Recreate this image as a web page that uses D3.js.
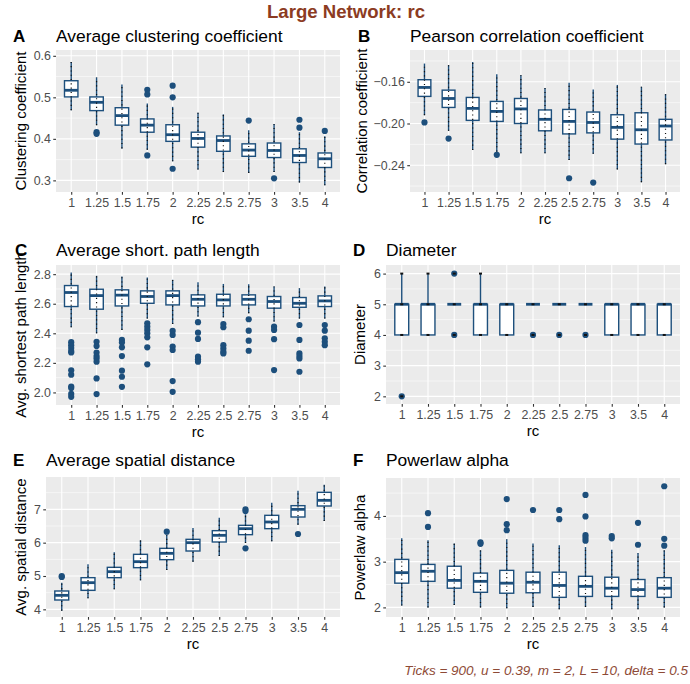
<!DOCTYPE html>
<html>
<head>
<meta charset="utf-8">
<script src="https://cdn.jsdelivr.net/npm/d3@7"></script>
<style>
  body { margin: 0; background: #fff; }
  svg { font-family: "Liberation Sans", Arial, sans-serif; }
</style>
</head>
<body>
<svg id="chart" width="690" height="684"></svg>
<script>
const rcLevels = ['1', '1.25', '1.5', '1.75', '2', '2.25', '2.5', '2.75', '3', '3.5', '4'];

// each row: [lower whisker, q1, median, q3, upper whisker]
const clusterStats = [
  [0.469, 0.501, 0.517, 0.540, 0.585], [0.433, 0.468, 0.488, 0.501, 0.548],
  [0.377, 0.433, 0.456, 0.475, 0.531], [0.374, 0.416, 0.433, 0.448, 0.485],
  [0.346, 0.394, 0.410, 0.434, 0.477], [0.326, 0.380, 0.401, 0.416, 0.463],
  [0.320, 0.370, 0.396, 0.407, 0.459], [0.318, 0.358, 0.373, 0.388, 0.421],
  [0.320, 0.355, 0.372, 0.390, 0.436], [0.295, 0.343, 0.360, 0.376, 0.416],
  [0.288, 0.331, 0.352, 0.366, 0.406]
];
const clusterOutliers = [[], [0.416, 0.412], [], [0.518, 0.507, 0.360], [0.528, 0.500, 0.328],
  [], [], [0.444], [0.305], [0.446, 0.427], [0.419]];

const corrStats = [
  [-0.192, -0.174, -0.1654, -0.158, -0.1425], [-0.207, -0.1846, -0.176, -0.168, -0.144],
  [-0.2254, -0.197, -0.1855, -0.175, -0.141], [-0.227, -0.198, -0.1884, -0.1788, -0.1527],
  [-0.2286, -0.200, -0.186, -0.176, -0.1536], [-0.2286, -0.207, -0.196, -0.187, -0.166],
  [-0.235, -0.210, -0.198, -0.1865, -0.161], [-0.229, -0.209, -0.199, -0.189, -0.1673],
  [-0.244, -0.215, -0.2037, -0.1916, -0.163], [-0.2563, -0.2197, -0.206, -0.1897, -0.1648],
  [-0.239, -0.2158, -0.2024, -0.196, -0.1718]
];
const corrOutliers = [[-0.199], [-0.2145], [], [-0.230], [], [], [-0.2525], [-0.2567], [], [], []];

const pathStats = [
  [2.441, 2.581, 2.676, 2.723, 2.811], [2.400, 2.563, 2.655, 2.698, 2.789],
  [2.423, 2.585, 2.658, 2.694, 2.784], [2.500, 2.603, 2.649, 2.687, 2.777],
  [2.463, 2.592, 2.655, 2.687, 2.762], [2.513, 2.585, 2.630, 2.660, 2.746],
  [2.508, 2.585, 2.626, 2.664, 2.734], [2.536, 2.592, 2.630, 2.660, 2.732],
  [2.479, 2.570, 2.615, 2.649, 2.716], [2.500, 2.576, 2.603, 2.642, 2.705],
  [2.500, 2.581, 2.619, 2.653, 2.716]
];
const pathOutliers = [
  [2.34, 2.32, 2.30, 2.28, 2.27, 2.15, 2.12, 2.04, 2.03, 1.99, 1.97],
  [2.343, 2.314, 2.27, 2.246, 2.23, 2.208, 2.095, 1.989],
  [2.355, 2.337, 2.305, 2.246, 2.147, 2.106, 2.038],
  [2.468, 2.445, 2.423, 2.40, 2.373, 2.305, 2.19],
  [2.416, 2.389, 2.31, 2.287, 2.077, 2.004],
  [2.475, 2.404, 2.362, 2.242, 2.224, 2.208],
  [2.463, 2.441, 2.32, 2.298, 2.276, 2.264],
  [2.495, 2.418, 2.35, 2.282],
  [2.445, 2.423, 2.36, 2.151],
  [2.456, 2.355, 2.264, 2.246, 2.23, 2.14],
  [2.456, 2.418, 2.366, 2.343, 2.32]
];

const diameterStats = [
  [4, 4, 5, 5, 6], [4, 4, 5, 5, 6], [5, 5, 5, 5, 5], [4, 4, 5, 5, 6],
  [4, 4, 5, 5, 5], [5, 5, 5, 5, 5], [5, 5, 5, 5, 5], [5, 5, 5, 5, 5],
  [4, 4, 5, 5, 5], [4, 4, 5, 5, 5], [4, 4, 5, 5, 5]
];
const diameterOutliers = [[2], [], [6, 4], [], [], [4], [4], [4], [], [], []];
// distinct diameters observed per rc level (the raw points)
const diameterSeen = [[2, 4, 5, 6], [4, 5, 6], [4, 5, 6], [4, 5, 6], [4, 5], [4, 5],
  [4, 5], [4, 5], [4, 5], [4, 5], [4, 5]];

const spatialStats = [
  [3.96, 4.28, 4.42, 4.55, 4.80], [4.33, 4.57, 4.80, 4.95, 5.35],
  [4.60, 4.95, 5.13, 5.26, 5.71], [4.87, 5.25, 5.43, 5.65, 6.07],
  [5.18, 5.49, 5.68, 5.83, 6.24], [5.43, 5.75, 6.00, 6.10, 6.44],
  [5.60, 6.02, 6.22, 6.36, 6.75], [5.99, 6.24, 6.42, 6.52, 6.85],
  [6.04, 6.42, 6.62, 6.82, 7.20], [6.54, 6.77, 7.00, 7.11, 7.56],
  [6.65, 7.10, 7.27, 7.51, 7.74]
];
const spatialOutliers = [[5.0, 4.97], [], [], [], [6.33], [], [], [7.0, 6.95, 5.83], [], [6.26], []];

const alphaStats = [
  [2.04, 2.53, 2.76, 3.05, 3.51], [2.00, 2.57, 2.79, 2.94, 3.47],
  [2.05, 2.42, 2.59, 2.90, 3.40], [2.00, 2.33, 2.57, 2.75, 3.25],
  [1.98, 2.31, 2.53, 2.81, 3.49], [2.01, 2.32, 2.55, 2.77, 3.40],
  [1.96, 2.22, 2.48, 2.77, 3.36], [2.01, 2.24, 2.46, 2.68, 3.32],
  [1.96, 2.24, 2.42, 2.66, 3.26], [1.96, 2.24, 2.39, 2.61, 3.19],
  [2.00, 2.22, 2.42, 2.65, 3.25]
];
const alphaOutliers = [[], [4.06, 3.76], [], [3.42, 3.39], [4.37, 3.82, 3.69], [4.13],
  [4.13, 3.93], [4.46, 3.99, 3.58, 3.52, 3.46], [3.56, 3.51], [3.85, 3.37], [4.65, 3.50, 3.35]];

const clusterTicks = [0.3, 0.4, 0.5, 0.6];
const corrTicks = [-0.24, -0.20, -0.16];
const pathTicks = [2.0, 2.2, 2.4, 2.6, 2.8];
const diameterTicks = [2, 3, 4, 5, 6];
const spatialTicks = [4, 5, 6, 7];
const alphaTicks = [2, 3, 4];

const boxColor = '#1d4f7c';
const brown = '#8c3b22';

const svg = d3.select('#chart');

const panels = [
  { tag: 'A', tagX: 13, title: 'Average clustering coefficient', ylab: 'Clustering coefficient',
    stats: clusterStats, out: clusterOutliers, ticks: clusterTicks, fmt: '.1f', domain: [0.272, 0.614],
    left: 56, right: 340, top: 50, bottom: 192, titleY: 42, ylabX: 21 },
  { tag: 'B', tagX: 358, title: 'Pearson correlation coefficient', ylab: 'Correlation coefficient',
    stats: corrStats, out: corrOutliers, ticks: corrTicks, fmt: '.2f', domain: [-0.2657, -0.1295],
    left: 410, right: 680, top: 50, bottom: 192, titleY: 42, ylabX: 362 },
  { tag: 'C', tagX: 15, title: 'Average short. path length', ylab: 'Avg. shortest path length',
    stats: pathStats, out: pathOutliers, ticks: pathTicks, fmt: '.1f', domain: [1.915, 2.862],
    left: 56, right: 340, top: 265, bottom: 405, titleY: 255.5, ylabX: 21 },
  { tag: 'D', tagX: 353, title: 'Diameter', ylab: 'Diameter',
    stats: diameterStats, out: diameterOutliers, seen: diameterSeen, ticks: diameterTicks, fmt: 'd',
    domain: [1.75, 6.28], left: 386, right: 680, top: 265, bottom: 404, titleY: 255.5, ylabX: 360 },
  { tag: 'E', tagX: 13, title: 'Average spatial distance', ylab: 'Avg. spatial distance',
    stats: spatialStats, out: spatialOutliers, ticks: spatialTicks, fmt: 'd', domain: [3.77, 7.97],
    left: 46, right: 340, top: 477, bottom: 617, titleY: 466, ylabX: 21 },
  { tag: 'F', tagX: 353, title: 'Powerlaw alpha', ylab: 'Powerlaw alpha',
    stats: alphaStats, out: alphaOutliers, ticks: alphaTicks, fmt: 'd', domain: [1.79, 4.83],
    left: 386, right: 680, top: 478, bottom: 617, titleY: 466, ylabX: 360 }
];

function drawPanel(p) {
  const g = svg.append('g');
  const x = d3.scalePoint().domain(rcLevels).range([p.left, p.right]).padding(0.6);
  const y = d3.scaleLinear().domain(p.domain).range([p.bottom, p.top]);
  const step = x.step();
  const bw = step * 0.53;

  // panel background + grid
  g.append('rect')
    .attr('x', p.left).attr('y', p.top)
    .attr('width', p.right - p.left).attr('height', p.bottom - p.top)
    .attr('fill', '#ebebeb');

  const gap = p.ticks[1] - p.ticks[0];
  const minor = [p.ticks[0] - gap / 2].concat(p.ticks.map(t => t + gap / 2))
    .filter(v => v > p.domain[0] && v < p.domain[1]);
  g.selectAll('.minor').data(minor).enter().append('line')
    .attr('x1', p.left).attr('x2', p.right)
    .attr('y1', d => y(d)).attr('y2', d => y(d))
    .attr('stroke', '#fff').attr('stroke-width', 0.55);
  g.selectAll('.major').data(p.ticks).enter().append('line')
    .attr('x1', p.left).attr('x2', p.right)
    .attr('y1', d => y(d)).attr('y2', d => y(d))
    .attr('stroke', '#fff').attr('stroke-width', 1.1);
  g.selectAll('.vgrid').data(rcLevels).enter().append('line')
    .attr('x1', d => x(d)).attr('x2', d => x(d))
    .attr('y1', p.top).attr('y2', p.bottom)
    .attr('stroke', '#fff').attr('stroke-width', 1.1);

  // axes
  const yAxis = g.append('g')
    .attr('transform', 'translate(' + p.left + ',0)')
    .call(d3.axisLeft(y).tickValues(p.ticks).tickFormat(d3.format(p.fmt)).tickSize(2.75).tickPadding(2.4));
  const xAxis = g.append('g')
    .attr('transform', 'translate(0,' + p.bottom + ')')
    .call(d3.axisBottom(x).tickSize(2.75).tickPadding(3.2));
  [yAxis, xAxis].forEach(a => {
    a.select('.domain').remove();
    a.selectAll('line').attr('stroke', '#333').attr('stroke-width', 1.1);
    a.selectAll('text').attr('fill', '#4d4d4d').style('font-size', '12.4px');
  });

  // boxplots
  const boxes = g.selectAll('.box').data(p.stats).enter().append('g')
    .attr('transform', (d, i) => 'translate(' + x(rcLevels[i]) + ',0)');

  boxes.append('line')
    .attr('y1', d => y(d[0])).attr('y2', d => y(d[1]))
    .attr('stroke', boxColor).attr('stroke-width', 1.4);
  boxes.append('line')
    .attr('y1', d => y(d[3])).attr('y2', d => y(d[4]))
    .attr('stroke', boxColor).attr('stroke-width', 1.4);
  boxes.append('rect')
    .attr('x', -bw / 2).attr('width', bw)
    .attr('y', d => y(d[3])).attr('height', d => y(d[1]) - y(d[3]))
    .attr('fill', '#fff').attr('stroke', boxColor).attr('stroke-width', 1.4);
  boxes.append('line')
    .attr('x1', -bw / 2).attr('x2', bw / 2)
    .attr('y1', d => y(d[2])).attr('y2', d => y(d[2]))
    .attr('stroke', boxColor).attr('stroke-width', 2.8);

  // outliers
  p.out.forEach((vals, i) => {
    g.selectAll(null).data(vals).enter().append('circle')
      .attr('cx', x(rcLevels[i])).attr('cy', d => y(d))
      .attr('r', 3.1).attr('fill', boxColor);
  });

  // raw observations overlaid
  if (p.seen) {
    p.seen.forEach((vals, i) => {
      g.selectAll(null).data(vals).enter().append('rect')
        .attr('x', x(rcLevels[i]) - 1.5).attr('y', d => y(d) - 1)
        .attr('width', 3).attr('height', 2).attr('fill', '#111');
    });
  } else {
    boxes.append('line')
      .attr('y1', d => y(d[0])).attr('y2', d => y(d[4]))
      .attr('stroke', '#111').attr('stroke-width', 1.2)
      .attr('stroke-dasharray', '1.1 3.2');
  }

  // labels
  g.append('text').attr('x', p.tagX).attr('y', p.titleY)
    .style('font-size', '17px').style('font-weight', 'bold').text(p.tag);
  g.append('text').attr('x', p.left).attr('y', p.titleY)
    .style('font-size', '17.4px').text(p.title);
  g.append('text').attr('x', (p.left + p.right) / 2).attr('y', p.bottom + 32)
    .attr('text-anchor', 'middle').style('font-size', '15px').text('rc');
  g.append('text')
    .attr('transform', 'translate(' + p.ylabX + ',' + (p.top + p.bottom) / 2 + ') rotate(-90)')
    .attr('text-anchor', 'middle').attr('dy', '0.35em')
    .style('font-size', '15px').text(p.ylab);
}

panels.forEach(drawPanel);

svg.append('text')
  .attr('x', 346).attr('y', 18)
  .attr('text-anchor', 'middle')
  .style('font-size', '18.6px').style('font-weight', 'bold')
  .attr('fill', brown)
  .text('Large Network: rc');

svg.append('text')
  .attr('x', 688).attr('y', 675)
  .attr('text-anchor', 'end')
  .style('font-size', '13.5px').style('font-style', 'italic')
  .attr('fill', '#8e4a36')
  .text('Ticks = 900, u = 0.39, m = 2, L = 10, delta = 0.5');
</script>
</body>
</html>
